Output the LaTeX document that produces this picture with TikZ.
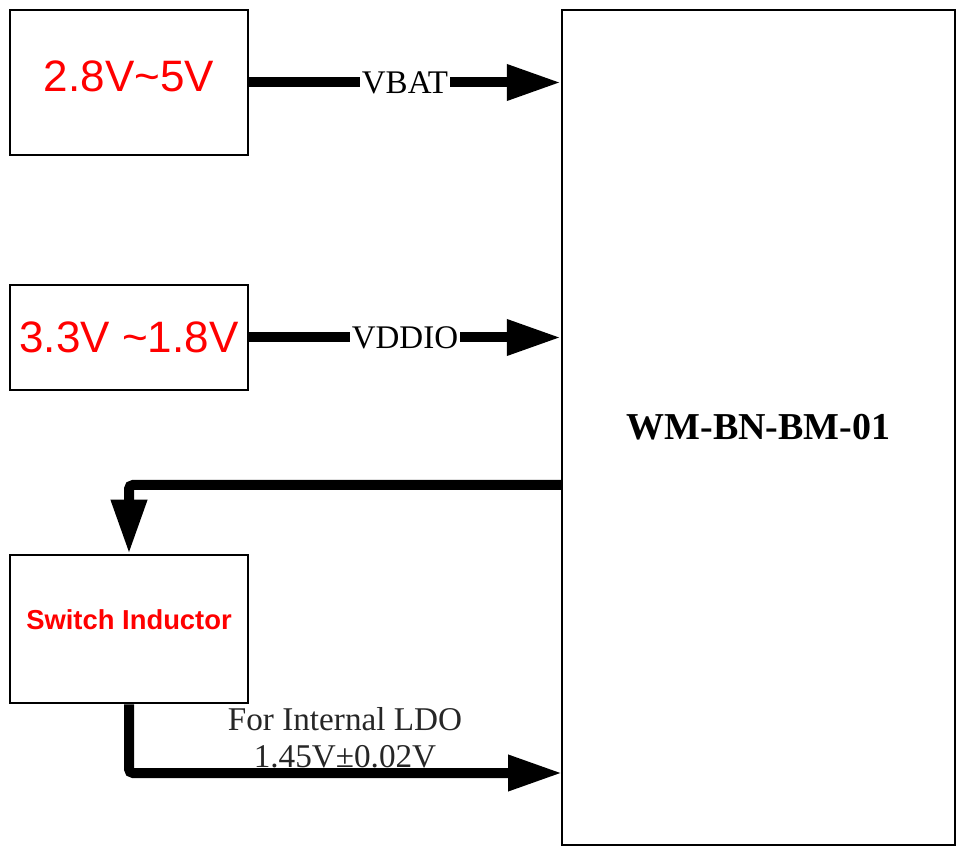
\documentclass[tikz,border=0pt]{standalone}
\usepackage{fontspec}
\setmainfont{Liberation Serif}
\newfontfamily\arialfont{Liberation Sans}
\usetikzlibrary{arrows.meta}
\begin{document}
\begin{tikzpicture}[x=0.5pt, y=-0.5pt,
    blk/.style={draw, line width=1.25pt, rectangle, inner sep=0pt},
    srcbox/.style={blk, minimum width=119pt, text=red, font=\arialfont\fontsize{22}{26}\selectfont},
    pwr/.style={line width=5pt, -{Triangle[length=27pt, width=17pt]}},
    sig/.style={fill=white, inner sep=1pt, font=\fontsize{16.5}{18}\selectfont}]
      \useasboundingbox (0,0) rectangle (958,849);
      \node[blk, minimum width=196.5pt, minimum height=417.5pt, font=\bfseries\fontsize{19}{22}\selectfont] (main) at (758.5,427.5) {WM-BN-BM-01};
      \node[srcbox, minimum height=72.5pt, text height=16pt, text depth=7pt] (vbat) at (129,82.5) {2.8V\char`~5V};
      \node[srcbox, minimum height=52.5pt] (vddio) at (129,337.5) {3.3V \char`~1.8V};
      \node[blk, minimum width=119pt, minimum height=74pt, text height=10pt, text depth=9.2pt, text=red, font=\arialfont\bfseries\fontsize{13.7}{16}\selectfont] (sw) at (129,629) {Switch Inductor};
      \coordinate (tap) at (562,485);
      \coordinate (ldo) at (562,773);
      \draw[pwr] (vbat.east) -- (vbat.east -| main.west) node[sig, pos=0.5] {VBAT};
      \draw[pwr] (vddio.east) -- (vddio.east -| main.west) node[sig, pos=0.5] {VDDIO};
      \draw[pwr, rounded corners=2pt] (tap) -| (sw.north);
      \draw[pwr, rounded corners=2pt] (sw.south) |- (ldo);
      \node[align=center, anchor=south, inner sep=0pt, text=black!85, font=\fontsize{16.6}{18.5}\selectfont] (ldotxt) at (345,768) {For Internal LDO\\1.45V±0.02V};
\end{tikzpicture}
\end{document}
